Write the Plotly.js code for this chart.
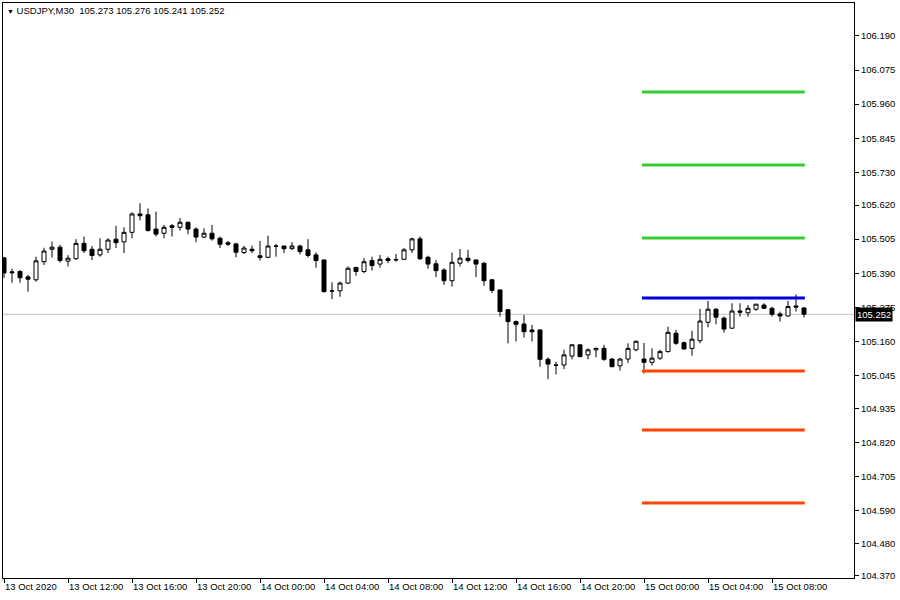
<!DOCTYPE html>
<html>
<head>
<meta charset="utf-8">
<script src="https://cdn.plot.ly/plotly-3.0.1.min.js"></script>
<style>html,body{margin:0;padding:0;background:#fff}#chart{width:900px;height:600px}</style>
</head>
<body>
<div id="chart"></div>
<script>
const symbol = "USDJPY,M30";
const open = [105.442,105.395,105.396,105.378,105.368,105.429,105.471,105.478,105.431,105.439,
105.491,105.471,105.452,105.471,105.505,105.496,105.528,105.590,105.587,105.539,
105.525,105.550,105.545,105.562,105.539,105.512,105.525,105.508,105.493,105.489,
105.460,105.471,105.449,105.444,105.482,105.482,105.473,105.482,105.469,105.452,
105.435,105.331,105.331,105.357,105.410,105.396,105.433,105.421,105.439,105.435,
105.437,105.469,105.506,105.444,105.422,105.401,105.365,105.424,105.441,105.435,
105.424,105.368,105.334,105.267,105.227,105.219,105.199,105.199,105.100,105.081,
105.081,105.111,105.149,105.115,105.132,105.137,105.101,105.078,105.101,105.132,
105.101,105.090,105.104,105.126,105.188,105.156,105.137,105.163,105.225,105.269,
105.239,105.205,105.263,105.257,105.269,105.283,105.272,105.253,105.246,105.280,
105.273];
const high = [105.445,105.405,105.401,105.385,105.446,105.476,105.497,105.486,105.451,105.505,
105.514,105.482,105.508,105.508,105.550,105.545,105.595,105.626,105.609,105.598,
105.553,105.556,105.576,105.562,105.545,105.542,105.553,105.514,105.499,105.493,
105.483,105.483,105.499,105.517,105.489,105.482,105.495,105.486,105.505,105.461,
105.435,105.360,105.362,105.413,105.410,105.441,105.446,105.452,105.446,105.455,
105.475,105.510,105.514,105.449,105.435,105.407,105.460,105.472,105.469,105.435,
105.427,105.371,105.334,105.269,105.231,105.250,105.216,105.202,105.107,105.092,
105.132,105.152,105.149,105.137,105.139,105.149,105.104,105.104,105.154,105.163,
105.155,105.137,105.132,105.210,105.199,105.160,105.196,105.270,105.297,105.272,
105.244,105.289,105.289,105.283,105.286,105.289,105.277,105.261,105.297,105.319,
105.276];
const low = [105.374,105.358,105.358,105.328,105.362,105.418,105.443,105.426,105.413,105.435,
105.458,105.435,105.446,105.458,105.475,105.458,105.508,105.568,105.531,105.514,
105.508,105.514,105.534,105.522,105.495,105.508,105.500,105.475,105.482,105.444,
105.455,105.458,105.433,105.441,105.446,105.458,105.469,105.454,105.443,105.409,
105.326,105.303,105.311,105.354,105.382,105.390,105.399,105.409,105.424,105.429,
105.435,105.458,105.435,105.405,105.377,105.351,105.345,105.413,105.426,105.377,
105.348,105.323,105.244,105.154,105.160,105.173,105.160,105.075,105.033,105.049,
105.067,105.100,105.109,105.100,105.107,105.095,105.075,105.062,105.088,105.127,
105.052,105.079,105.098,105.123,105.149,105.132,105.112,105.154,105.208,105.218,
105.190,105.202,105.244,105.244,105.263,105.270,105.244,105.227,105.244,105.261,
105.241];
const close = [105.391,105.392,105.375,105.370,105.432,105.465,105.478,105.433,105.441,105.491,
105.466,105.450,105.471,105.502,105.493,105.528,105.590,105.584,105.534,105.522,
105.545,105.545,105.562,105.539,105.512,105.525,105.506,105.488,105.488,105.461,
105.475,105.466,105.443,105.482,105.481,105.473,105.482,105.463,105.450,105.433,
105.328,105.330,105.357,105.407,105.396,105.429,105.416,105.437,105.433,105.436,
105.469,105.506,105.439,105.421,105.399,105.365,105.427,105.441,105.433,105.421,
105.365,105.332,105.261,105.227,105.218,105.193,105.193,105.100,105.084,105.080,
105.115,105.149,105.109,105.132,105.137,105.100,105.075,105.101,105.137,105.161,
105.090,105.104,105.126,105.191,105.154,105.135,105.168,105.229,105.269,105.242,
105.202,105.263,105.259,105.272,105.286,105.272,105.252,105.246,105.278,105.276,
105.252];

// time-axis labels (every 8 bars of 30 minutes)
const timeTickBars = [0,8,16,24,32,40,48,56,64,72,80,88,96];
const timeTickLabels = ["13 Oct 2020","13 Oct 12:00","13 Oct 16:00","13 Oct 20:00","14 Oct 00:00","14 Oct 04:00","14 Oct 08:00","14 Oct 12:00","14 Oct 16:00","14 Oct 20:00","15 Oct 00:00","15 Oct 04:00","15 Oct 08:00"];

// price-axis labels
const priceTicks = [106.190,106.075,105.960,105.845,105.730,105.620,105.505,105.390,105.275,105.160,105.045,104.935,104.820,104.705,104.590,104.480,104.370];

// level lines
const levelStartBar = 80;
const levelEndBar = 100;
const resistanceLevels = [106.001, 105.755, 105.509];
const pivotLevel = [105.307];
const supportLevels = [105.061, 104.862, 104.616];

const bars = open.map((_, i) => i);
const last = open.length - 1;
const lastClose = close[last];

const traces = [{
  type: 'candlestick',
  x: bars, open: open, high: high, low: low, close: close,
  increasing: {line: {color: '#000000', width: 1}, fillcolor: '#ffffff'},
  decreasing: {line: {color: '#000000', width: 1}, fillcolor: '#000000'},
  whiskerwidth: 0,
  hoverinfo: 'skip',
  showlegend: false
}];

function levelTraces(levels, color) {
  levels.forEach(v => {
    traces.push({
      type: 'scatter', mode: 'lines',
      x: [levelStartBar - 0.25, levelEndBar + 0.1], y: [v, v],
      line: {color: color, width: 3},
      hoverinfo: 'skip', showlegend: false
    });
  });
}
levelTraces(resistanceLevels, '#33cc33');
levelTraces(pivotLevel, '#0000dd');
levelTraces(supportLevels, '#ff4500');

const f = v => v.toFixed(3);
const titleText = '<span style="font-size:7px">▼</span>\u00a0' + symbol + '\u00a0\u00a0' +
  f(open[last]) + ' ' + f(high[last]) + ' ' + f(low[last]) + ' ' + f(close[last]);

const layout = {
  width: 900, height: 600,
  margin: {l: 3, r: 46, t: 3, b: 22, pad: 0},
  paper_bgcolor: '#ffffff', plot_bgcolor: '#ffffff',
  font: {family: 'Liberation Sans, Arial, sans-serif', size: 9.5, color: '#000000'},
  showlegend: false,
  boxgap: 0.5, boxgroupgap: 0,
  title: {text: titleText, x: 7/900, xanchor: 'left', xref: 'container',
          y: 1 - 11/600, yanchor: 'middle', yref: 'container',
          font: {family: 'Liberation Sans, Arial, sans-serif', size: 9.5, color: '#000000'}},
  xaxis: {
    range: [-0.125, 106.25], showgrid: false, zeroline: false,
    rangeslider: {visible: false},
    tickmode: 'array', tickvals: timeTickBars, ticktext: timeTickLabels,
    ticks: 'outside', ticklen: 4, tickcolor: '#000', tickwidth: 1,
    ticklabelposition: 'outside right',
    showline: true, linecolor: '#000', linewidth: 1, mirror: true,
    fixedrange: true
  },
  yaxis: {
    side: 'right', range: [104.363, 106.301], showgrid: false, zeroline: false,
    tickmode: 'array', tickvals: priceTicks, ticktext: priceTicks.map(f),
    ticks: 'outside', ticklen: 4, tickcolor: '#000', tickwidth: 1,
    showline: true, linecolor: '#000', linewidth: 1, mirror: true,
    fixedrange: true
  },
  shapes: [{
    type: 'line', xref: 'paper', x0: 0, x1: 1, yref: 'y', y0: lastClose, y1: lastClose,
    line: {color: '#c0c0c0', width: 1}, layer: 'below'
  }],
  annotations: [{
    xref: 'paper', x: 1, xanchor: 'left', xshift: 1,
    yref: 'y', y: lastClose, yanchor: 'middle',
    text: f(lastClose), showarrow: false,
    bgcolor: '#000000', borderpad: 1,
    font: {family: 'Liberation Sans, Arial, sans-serif', size: 9.5, color: '#ffffff'}
  }]
};

Plotly.newPlot('chart', traces, layout, {displayModeBar: false, staticPlot: true});
</script>
</body>
</html>
